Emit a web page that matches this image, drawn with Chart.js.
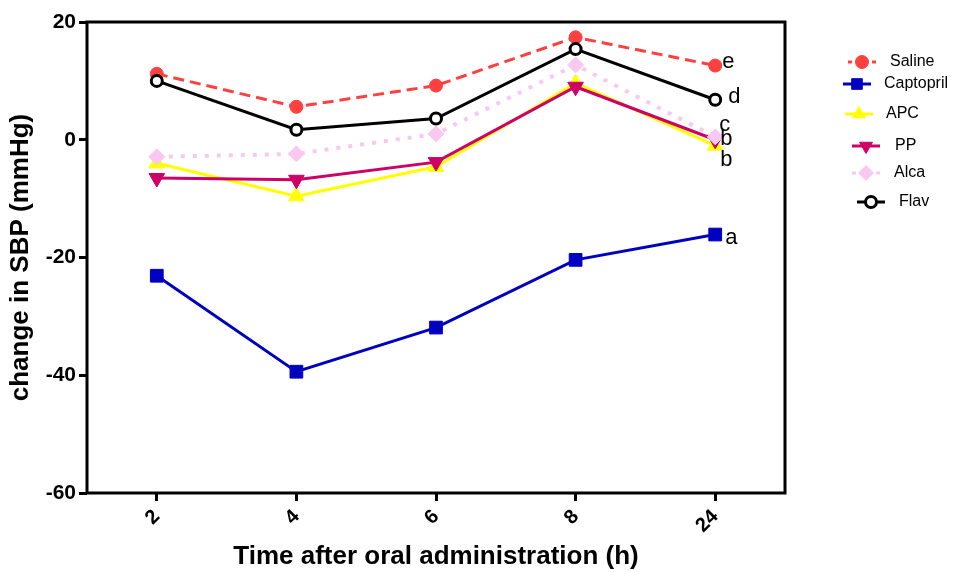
<!DOCTYPE html>
<html><head><meta charset="utf-8">
<script src="https://cdn.jsdelivr.net/npm/chart.js@4.4.0/dist/chart.umd.min.js"></script>
<style>html,body{margin:0;padding:0;background:#fff}#wrap{width:958px;height:572px}</style>
</head><body><div id="wrap"><canvas id="c" width="958" height="572"></canvas></div>
<script>
const categories = ['2', '4', '6', '8', '24'];
const seriesNames = ['Saline', 'Captopril', 'APC', 'PP', 'Alca', 'Flav'];
const saline    = [11.2, 5.6, 9.2, 17.4, 12.6];
const captopril = [-23.1, -39.4, -31.9, -20.4, -16.1];
const apc       = [-4.0, -9.6, -4.6, 9.6, -1.0];
const pp        = [-6.5, -6.8, -3.8, 9.0, 0.0];
const alca      = [-2.9, -2.4, 1.0, 12.7, 0.5];
const flav      = [10.0, 1.7, 3.6, 15.4, 6.8];
const sigLetters = ['e', 'a', 'b', 'b', 'c', 'd'];
const yTicks = [-60, -40, -20, 0, 20];

const FONT = '"Liberation Sans", Arial, sans-serif';

const datasets = [
  {label: seriesNames[0], data: saline, borderColor: 'rgb(255,64,64)', backgroundColor: 'rgb(255,64,64)', borderDash: [11, 6], pointStyle: 'circle', pointRadius: 6.5, order: 5},
  {label: seriesNames[1], data: captopril, borderColor: 'rgb(0,0,192)', backgroundColor: 'rgb(0,0,192)', pointStyle: 'rect', pointRadius: 9, order: 4},
  {label: seriesNames[2], data: apc, borderColor: 'rgb(255,255,0)', backgroundColor: 'rgb(255,255,0)', pointStyle: 'triangle', pointRadius: 9, order: 3},
  {label: seriesNames[3], data: pp, borderColor: 'rgb(204,0,102)', backgroundColor: 'rgb(204,0,102)', pointStyle: 'triangle', pointRotation: 180, pointRadius: 9, order: 2},
  {label: seriesNames[4], data: alca, borderColor: 'rgb(248,200,240)', backgroundColor: 'rgb(248,200,240)', borderDash: [4, 8], borderWidth: 4, pointStyle: 'rectRot', pointRadius: 8, order: 1},
  {label: seriesNames[5], data: flav, borderColor: '#000', backgroundColor: '#fff', pointStyle: 'circle', pointRadius: 5.5, pointBorderWidth: 3, order: 0}
];
datasets.forEach(d => {
  d.borderWidth = d.borderWidth || 3;
  d.pointBorderWidth = d.pointBorderWidth || 1;
  d.pointBorderColor = d.borderColor;
  d.pointBackgroundColor = d.backgroundColor;
  d.tension = 0;
  d.fill = false;
});

const framePlugin = {
  id: 'frame',
  afterDraw(chart) {
    const {ctx, chartArea: a} = chart;
    ctx.save();
    ctx.strokeStyle = '#000';
    ctx.lineWidth = 3;
    ctx.strokeRect(a.left, a.top, a.right - a.left, a.bottom - a.top);
    ctx.restore();
  }
};

const lettersPlugin = {
  id: 'letters',
  afterDraw(chart, args, opts) {
    const {ctx} = chart;
    ctx.save();
    ctx.font = '22px ' + FONT;
    ctx.fillStyle = '#000';
    ctx.textAlign = 'left';
    ctx.textBaseline = 'middle';
    chart.data.datasets.forEach((ds, i) => {
      const meta = chart.getDatasetMeta(i);
      const pt = meta.data[meta.data.length - 1];
      const off = opts.offsets[i];
      ctx.fillText(sigLetters[i], pt.x + off[0], pt.y + off[1]);
    });
    ctx.restore();
  }
};

const legendPlugin = {
  id: 'customLegend',
  afterDraw(chart, args, opts) {
    const {ctx} = chart;
    chart.data.datasets.forEach((ds, i) => {
      const [lx, ly, tx] = opts.items[i];
      ctx.save();
      ctx.strokeStyle = ds.borderColor;
      ctx.lineWidth = 3;
      ctx.setLineDash(ds.borderDash ? [4, 4] : []);
      ctx.beginPath();
      ctx.moveTo(lx - 14, ly);
      ctx.lineTo(lx + 14, ly);
      ctx.stroke();
      ctx.setLineDash([]);
      ctx.fillStyle = ds.backgroundColor;
      ctx.strokeStyle = ds.borderColor;
      ctx.lineWidth = ds.pointBorderWidth;
      Chart.helpers.drawPoint(ctx, {pointStyle: ds.pointStyle, rotation: ds.pointRotation || 0, radius: Math.min(ds.pointRadius, 7.5), borderWidth: ds.pointBorderWidth}, lx, ly);
      ctx.restore();
      ctx.save();
      ctx.fillStyle = '#000';
      ctx.font = '16px ' + FONT;
      ctx.textAlign = 'left';
      ctx.textBaseline = 'middle';
      ctx.fillText(ds.label, tx, ly);
      ctx.restore();
    });
  }
};

new Chart(document.getElementById('c'), {
  type: 'line',
  data: {labels: categories, datasets},
  options: {
    responsive: false,
    animation: false,
    layout: {padding: {left: 0, top: 22, right: 173, bottom: 0}},
    plugins: {
      legend: {display: false},
      tooltip: {enabled: false},
      letters: {offsets: [[7, -4], [10, 3], [5, 14], [5, -1], [4, -12], [13, -3]]},
      customLegend: {items: [[862, 62, 890], [857, 84, 884], [859, 114, 886], [866, 146, 895], [866, 173, 894], [871, 202, 899]]}
    },
    scales: {
      x: {
        type: 'category',
        offset: true,
        grid: {display: true, drawOnChartArea: false, drawTicks: true, tickLength: 8, color: '#000', lineWidth: 3, tickWidth: 3, offset: false},
        border: {display: false},
        ticks: {color: '#000', font: {family: FONT, size: 20, weight: 'bold'}, minRotation: 45, maxRotation: 45, padding: 4},
        title: {display: true, text: 'Time after oral administration (h)', color: '#000', font: {family: FONT, size: 26, weight: 'bold'}, padding: {top: 0, bottom: 0}},
        afterFit(s) { s.height = 79; }
      },
      y: {
        min: -60, max: 20,
        grid: {display: true, drawOnChartArea: false, drawTicks: true, tickLength: 8, color: '#000', lineWidth: 3, tickWidth: 3},
        border: {display: false},
        afterBuildTicks(s) { s.ticks = yTicks.map(v => ({value: v})); },
        ticks: {color: '#000', font: {family: FONT, size: 21, weight: 'bold'}, padding: 3},
        title: {display: true, text: 'change in SBP (mmHg)', color: '#000', font: {family: FONT, size: 26, weight: 'bold'}, padding: {top: 5, bottom: 0}},
        afterFit(s) { s.width = 87; }
      }
    }
  },
  plugins: [framePlugin, lettersPlugin, legendPlugin]
});
</script>
</body></html>
